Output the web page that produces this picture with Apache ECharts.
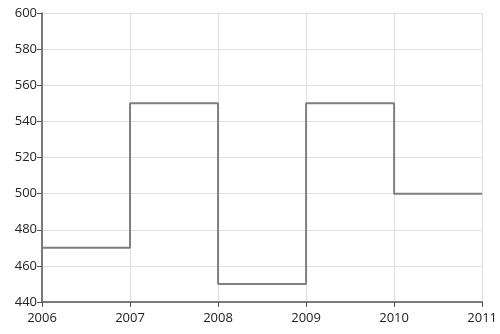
<!DOCTYPE html>
<html><head><meta charset="utf-8">
<script src="https://cdn.jsdelivr.net/npm/echarts@6/dist/echarts.min.js"></script>
<style>html,body{margin:0;padding:0;background:#fff}#c{width:500px;height:334px}</style>
</head><body><div id="c"></div>
<script>
const years = [2006, 2007, 2008, 2009, 2010, 2011];
const values = [470, 550, 450, 550, 500, 500];
const yMin = 440, yMax = 600, yStep = 20;

const chart = echarts.init(document.getElementById('c'), null, {renderer: 'canvas'});
chart.setOption({
  animation: false,
  grid: {left: 42, right: 16, top: 13, bottom: 32, containLabel: false},
  xAxis: {
    type: 'value', min: 2006, max: 2011, interval: 1,
    axisLine: {show: true, lineStyle: {color: '#555', width: 1.5}},
    axisTick: {show: true, length: 5, lineStyle: {color: '#555'}},
    axisLabel: {color: '#222', fontFamily: 'Open Sans', fontSize: 13, margin: 10,
      formatter: v => String(v)},
    splitLine: {show: true, lineStyle: {color: '#e0e0e0'}}
  },
  yAxis: {
    type: 'value', min: yMin, max: yMax, interval: yStep,
    axisLine: {show: true, lineStyle: {color: '#555', width: 1.5}},
    axisTick: {show: true, length: 5, lineStyle: {color: '#555'}},
    axisLabel: {color: '#222', fontFamily: 'Open Sans', fontSize: 13, margin: 5},
    splitLine: {show: true, lineStyle: {color: '#e0e0e0'}}
  },
  series: [{
    type: 'line', step: 'end', symbol: 'none',
    data: years.map((y, i) => [y, values[i]]),
    lineStyle: {color: '#7f7f7f', width: 2}
  }]
});
</script></body></html>
